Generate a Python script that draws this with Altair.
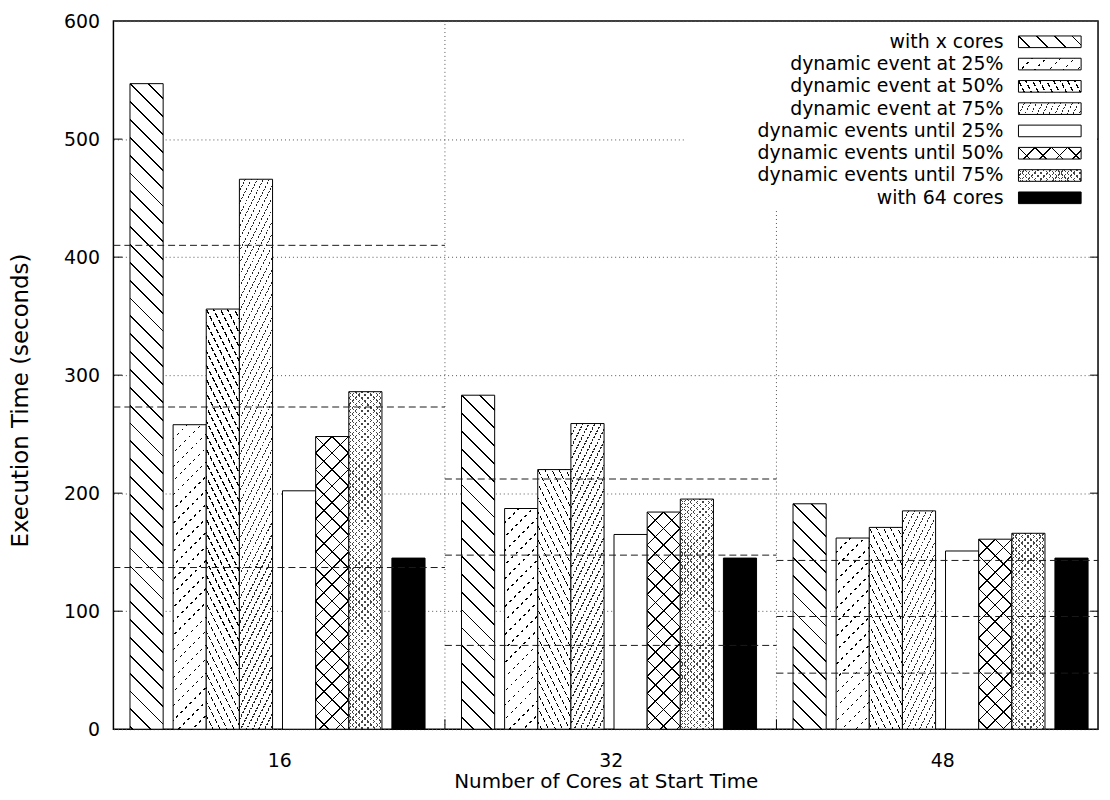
import math
import altair as alt
import pandas as pd

# ---------------- data ----------------
cores = ["16", "32", "48"]
series = [
    "with x cores",
    "dynamic event at 25%",
    "dynamic event at 50%",
    "dynamic event at 75%",
    "dynamic events until 25%",
    "dynamic events until 50%",
    "dynamic events until 75%",
    "with 64 cores",
]
time_16 = [547, 258, 356, 466, 202, 248, 286, 145]
time_32 = [283, 187, 220, 259, 165, 184, 195, 145]
time_48 = [191, 162, 171, 185, 151, 161, 166, 145]
marks_16 = [410, 273, 137]
marks_32 = [212, 147.5, 71]
marks_48 = [143, 95.5, 47.5]
y_tick_values = [0, 100, 200, 300, 400, 500, 600]
group_separators = [1, 2]

# ---------------- layout / style ----------------
PLOT_W, PLOT_H = 990, 712
X_MAX, Y_MAX = 2.97, 600
PX_X = PLOT_W / X_MAX
PX_Y = PLOT_H / Y_MAX
SLOT = [0.05, 0.18, 0.28, 0.38, 0.51, 0.61, 0.71, 0.84]
BAR_W = 0.10
FONT = "DejaVu Sans"
WHITE = "#ffffff"
CLEAR = "rgba(255,255,255,0)"
KEY_TOP, KEY_STEP, KEY_SW_H = 20.8, 22.41, 11.7
KEY_TEXT_X, KEY_SW_X0, KEY_SW_X1 = 895, 910, 973

# stripe layers: (normal angle deg, period px, line width px, colour)
PATTERNS = [
    [(-45.0, 12.7, 1.3, "#000000")],
    [(45.0, 10.0, 1.2, "#000000"), (-45.0, 6.5, 3.8, WHITE)],
    [(-26.57, 6.3, 1.1, "#000000"), (63.43, 7.0, 2.2, WHITE)],
    [(26.57, 5.4, 1.1, "#222222"), (-63.43, 3.5, 1.4, WHITE)],
    "#ffffff",
    [(-45.0, 11.7, 1.1, "#000000"), (45.0, 11.7, 1.1, "#000000")],
    [(-45.0, 4.6, 0.9, "#444444"), (45.0, 4.6, 0.9, "#444444"), (0.0, 3.0, 1.0, WHITE)],
    "#000000",
]


def stripes(W, H, theta, period, width, line, bg):
    a = math.cos(math.radians(theta))
    b = math.sin(math.radians(theta))
    corners = [(0, 0), (1, 0), (0, 1), (1, 1)]
    fs = [a * W * u + b * H * v for u, v in corners]
    fmin, fmax = min(fs), max(fs)
    F = fmax - fmin
    p1 = corners[fs.index(fmin)]
    D = a * a * W * W + b * b * H * H
    dx, dy = a * W * F / D, b * H * F / D
    stops = [(0.0, bg)]
    for k in range(math.floor(fmin / period), math.ceil(fmax / period) + 1):
        c = k * period
        s = (c - width / 2 - fmin) / F
        e = (c + width / 2 - fmin) / F
        if e <= 0 or s >= 1:
            continue
        s, e = max(s, 0.0), min(e, 1.0)
        stops += [(s, bg), (s, line), (e, line), (e, bg)]
    stops.append((1.0, bg))
    return {
        "gradient": "linear",
        "x1": p1[0], "y1": p1[1],
        "x2": round(p1[0] + dx, 6), "y2": round(p1[1] + dy, 6),
        "stops": [{"offset": round(o, 5), "color": col} for o, col in stops],
    }


def fills_for(si, W, H):
    p = PATTERNS[si]
    if isinstance(p, str):
        return [p]
    return [stripes(W, H, *lay, bg=(WHITE if j == 0 else CLEAR)) for j, lay in enumerate(p)]


def mark_kw(fills, j):
    kw = dict(fill=fills[j], strokeWidth=0)
    if j == len(fills) - 1:
        kw.update(stroke="black", strokeWidth=1)
    return kw


xs = alt.Scale(domain=[0, X_MAX], nice=False, zero=False)
ys = alt.Scale(domain=[0, Y_MAX], nice=False, zero=False)

x_axis = alt.Axis(
    values=[0.5, 1.5, 2.5],
    labelExpr="[" + ",".join("'%s'" % c for c in cores) + "][floor(datum.value)]",
    grid=False, ticks=False, tickSize=0, domain=False,
    labelPadding=37, labelBaseline="alphabetic", labelFlush=False,
    labelFont=FONT, labelFontSize=19, labelColor="black",
    title="Number of Cores at Start Time", titleFont=FONT, titleFontSize=20,
    titleFontWeight="normal", titleColor="black", titleY=59, titleBaseline="alphabetic",
)
y_axis = alt.Axis(
    values=y_tick_values, grid=True, gridDash=[1, 3], gridColor="#555555", gridWidth=1,
    ticks=False, tickSize=0, domain=False, labelPadding=14, labelFlush=False,
    labelFont=FONT, labelFontSize=19, labelColor="black",
    title="Execution Time (seconds)", titleFont=FONT, titleFontSize=23,
    titleFontWeight="normal", titleColor="black", titleAngle=270, titleAlign="center",
    titleBaseline="alphabetic", titleX=-86, titleY=381,
)


def X(field):
    return alt.X(field, scale=xs, axis=x_axis)


def Y(field):
    return alt.Y(field, scale=ys, axis=y_axis)


layers = []

# group separators (dotted)
sep_df = pd.DataFrame({"sep": group_separators, "lo": [0, 0], "hi": [Y_MAX, Y_MAX]})
layers.append(
    alt.Chart(sep_df).mark_rule(strokeDash=[1, 3], color="#555555", strokeWidth=1).encode(
        x=X("sep:Q"), y=Y("lo:Q"), y2="hi:Q",
    )
)

# bars with hatch patterns
for gi, vals in enumerate([time_16, time_32, time_48]):
    for si, v in enumerate(vals):
        df = pd.DataFrame({
            "cores": [cores[gi]], "series": [series[si]],
            "x0": [gi + SLOT[si]], "x1": [gi + SLOT[si] + BAR_W],
            "t": [v], "base": [0],
        })
        fills = fills_for(si, BAR_W * PX_X, v * PX_Y)
        for j in range(len(fills)):
            layers.append(
                alt.Chart(df).mark_rect(**mark_kw(fills, j)).encode(
                    x=X("x0:Q"), x2="x1:Q", y=Y("t:Q"), y2="base:Q",
                )
            )

# dashed reference lines per group
ref_rows = []
for gi, ms in enumerate([marks_16, marks_32, marks_48]):
    for m in ms:
        ref_rows.append({"g0": gi, "g1": min(gi + 1, X_MAX), "m": m})
layers.append(
    alt.Chart(pd.DataFrame(ref_rows)).mark_rule(strokeDash=[7, 4], color="#1a1a1a", strokeWidth=1).encode(
        x=X("g0:Q"), x2="g1:Q", y=Y("m:Q"),
    )
)

# inward ticks
tick_df = pd.DataFrame({"tick": [t for t in y_tick_values if 0 < t < Y_MAX]})
layers.append(
    alt.Chart(tick_df).mark_rule(color="black", strokeWidth=1).encode(
        y=Y("tick:Q"), x=alt.value(0), x2=alt.value(9)
    )
)
layers.append(
    alt.Chart(tick_df).mark_rule(color="black", strokeWidth=1).encode(
        y=Y("tick:Q"), x=alt.value(PLOT_W - 8), x2=alt.value(PLOT_W)
    )
)
layers.append(
    alt.Chart(sep_df).mark_rule(color="black", strokeWidth=1).encode(
        x=X("sep:Q"), y=alt.value(PLOT_H), y2=alt.value(PLOT_H - 10)
    )
)

# opaque key background
layers.append(
    alt.Chart(pd.DataFrame({"k": [0]})).mark_rect(fill="white").encode(
        x=alt.value(574), x2=alt.value(989), y=alt.value(1), y2=alt.value(191)
    )
)

# ---------------- key ----------------
for si, name in enumerate(series):
    cy = KEY_TOP + si * KEY_STEP
    df = pd.DataFrame({"series": [name]})
    fills = fills_for(si, KEY_SW_X1 - KEY_SW_X0, KEY_SW_H)
    for j in range(len(fills)):
        layers.append(
            alt.Chart(df).mark_rect(**mark_kw(fills, j)).encode(
                x=alt.value(KEY_SW_X0), x2=alt.value(KEY_SW_X1),
                y=alt.value(cy - KEY_SW_H / 2), y2=alt.value(cy + KEY_SW_H / 2),
            )
        )
    layers.append(
        alt.Chart(df).mark_text(align="right", baseline="middle", font=FONT, fontSize=19, color="black").encode(
            x=alt.value(KEY_TEXT_X), y=alt.value(cy), text="series:N"
        )
    )

chart = (
    alt.layer(*layers)
    .properties(
        width=PLOT_W, height=PLOT_H,
        padding={"left": 106, "top": 11, "right": 4, "bottom": 66},
        autosize=alt.AutoSizeParams(type="none"),
        background="white",
    )
    .configure_view(stroke="black", strokeWidth=1.5)
)

chart.save("out.html", embed_options={"renderer": "svg", "actions": False})
